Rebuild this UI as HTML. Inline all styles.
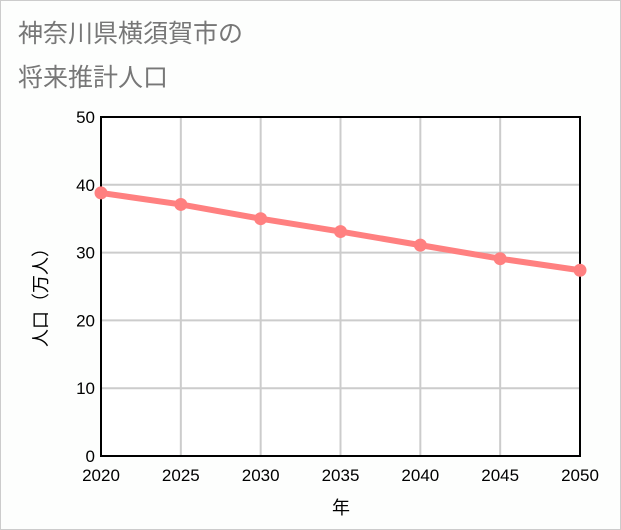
<!DOCTYPE html>
<html><head><meta charset="utf-8"><style>
body{margin:0;background:#fff;}
#wrap{position:relative;width:619px;height:528px;border:1px solid #ccc;background:#fdfefd;font-family:"Liberation Sans","Noto Sans CJK JP",sans-serif;}
.title{position:absolute;left:17px;color:#777;font-size:25px;}
</style></head><body>
<div id="wrap">
<div class="title" style="top:13px">神奈川県横須賀市の</div>
<div class="title" style="top:57px">将来推計人口</div>
<svg id="chart" width="619" height="528" style="position:absolute;left:0;top:0"></svg>
</div>
<script>
const years=[2020,2025,2030,2035,2040,2045,2050];
const population=[38.8,37.1,35.0,33.1,31.1,29.1,27.4];
const yTicks=[0,10,20,30,40,50];
const NS="http://www.w3.org/2000/svg";
const svg=document.getElementById('chart');
const L=100,R=579,T=116,B=455;
const x=v=>L+(v-2020)/30*(R-L);
const y=v=>B-v/50*(B-T);
function mk(t,a){const e=document.createElementNS(NS,t);for(const k in a)e.setAttribute(k,a[k]);svg.appendChild(e);return e;}
mk('rect',{x:L,y:T,width:R-L,height:B-T,fill:'#fff'});
yTicks.forEach(v=>{
 const g=mk('line',{x1:L,x2:R,y1:y(v),y2:y(v),stroke:'#ccc','stroke-width':2});
 
 
 const t=mk('text',{x:L-6,y:y(v)+6,'text-anchor':'end','font-size':17,fill:'#000'});
 t.textContent=v;
 
 
});
years.forEach(v=>{
 const g=mk('line',{x1:x(v),x2:x(v),y1:T,y2:B,stroke:'#ccc','stroke-width':2});
 
 
 const t=mk('text',{x:x(v),y:B+25,'text-anchor':'middle','font-size':17,fill:'#000'});
 t.textContent=v;
 
 
});
const frame=mk('rect',{x:L,y:T,width:R-L,height:B-T,fill:'none',stroke:'#000','stroke-width':2});


const line=mk('polyline',{points:years.map((v,i)=>x(v)+','+y(population[i])).join(' '),fill:'none',stroke:'#ff8080','stroke-width':6});


years.forEach((v,i)=>{
 const c=mk('circle',{cx:x(v),cy:y(population[i]),r:6.5,fill:'#ff8080'});
 
 
});
const xt=mk('text',{x:340,y:513,'text-anchor':'middle','font-size':18,fill:'#000'});
xt.textContent='年';


const yt=mk('text',{x:0,y:0,'text-anchor':'middle','font-size':18,fill:'#000',transform:'translate(46,292) rotate(-90)'});
yt.textContent='人口（万人）';


</script>
</body></html>
